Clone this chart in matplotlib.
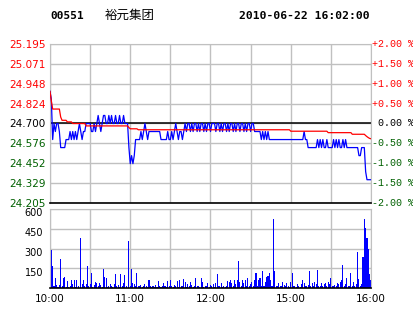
import matplotlib
matplotlib.use('Agg')
import matplotlib.pyplot as plt
from matplotlib.transforms import ScaledTranslation

code = '00551'
name = '裕元集团'
stamp = '2010-06-22 16:02:00'
prev_close = 24.70

price_levels = [25.195, 25.071, 24.948, 24.824, 24.700, 24.576, 24.452, 24.329, 24.205]
price_labels = ['25.195', '25.071', '24.948', '24.824', '24.700', '24.576', '24.452', '24.329', '24.205']
pct_labels = ['+2.00 %', '+1.50 %', '+1.00 %', '+0.50 %', ' 0.00 %', '-0.50 %', '-1.00 %', '-1.50 %', '-2.00 %']
time_ticks = [0, 60, 120, 180, 240]
time_labels = ['10:00', '11:00', '12:00', '15:00', '16:00']
vol_ticks = [150, 300, 450, 600]
vol_labels = ['150', '300', '450', '600']

# one value per minute, 10:00-12:30 then 14:30-16:00
price = [
    24.90, 24.85, 24.60, 24.70, 24.65, 24.70, 24.70, 24.65, 24.55, 24.55,
    24.55, 24.55, 24.60, 24.60, 24.60, 24.65, 24.60, 24.65, 24.60, 24.65,
    24.60, 24.65, 24.70, 24.65, 24.60, 24.65, 24.65, 24.70, 24.70, 24.70,
    24.70, 24.65, 24.65, 24.70, 24.65, 24.70, 24.75, 24.70, 24.65, 24.70,
    24.75, 24.75, 24.70, 24.70, 24.75, 24.70, 24.75, 24.70, 24.70, 24.75,
    24.70, 24.70, 24.75, 24.70, 24.70, 24.75, 24.70, 24.70, 24.70, 24.55,
    24.45, 24.50, 24.45, 24.50, 24.60, 24.60, 24.60, 24.60, 24.65, 24.60,
    24.65, 24.70, 24.65, 24.60, 24.65, 24.65, 24.65, 24.65, 24.65, 24.65,
    24.65, 24.65, 24.65, 24.60, 24.60, 24.60, 24.60, 24.60, 24.65, 24.60,
    24.60, 24.65, 24.60, 24.65, 24.70, 24.65, 24.60, 24.65, 24.65, 24.60,
    24.65, 24.70, 24.65, 24.70, 24.70, 24.65, 24.70, 24.65, 24.70, 24.70,
    24.65, 24.70, 24.65, 24.70, 24.70, 24.65, 24.70, 24.65, 24.70, 24.70,
    24.65, 24.70, 24.70, 24.70, 24.65, 24.70, 24.70, 24.65, 24.70, 24.65,
    24.70, 24.70, 24.65, 24.70, 24.65, 24.70, 24.70, 24.65, 24.70, 24.65,
    24.70, 24.70, 24.65, 24.70, 24.70, 24.65, 24.70, 24.65, 24.70, 24.70,
    24.65, 24.70, 24.70, 24.65, 24.65, 24.65, 24.65, 24.65, 24.60, 24.65,
    24.60, 24.65, 24.60, 24.65, 24.60, 24.60, 24.60, 24.60, 24.60, 24.60,
    24.60, 24.60, 24.60, 24.60, 24.60, 24.60, 24.60, 24.60, 24.60, 24.60,
    24.60, 24.60, 24.60, 24.60, 24.60, 24.60, 24.60, 24.60, 24.60, 24.60,
    24.65, 24.60, 24.60, 24.55, 24.55, 24.55, 24.55, 24.55, 24.55, 24.55,
    24.60, 24.55, 24.60, 24.55, 24.60, 24.55, 24.55, 24.60, 24.55, 24.55,
    24.55, 24.55, 24.60, 24.55, 24.60, 24.55, 24.60, 24.55, 24.55, 24.60,
    24.55, 24.60, 24.55, 24.55, 24.55, 24.55, 24.55, 24.55, 24.55, 24.55,
    24.55, 24.50, 24.50, 24.55, 24.55, 24.55, 24.40, 24.35, 24.35, 24.35,
    24.35,
]

avg_price = ([24.90, 24.84] + [24.79] * 6 + [24.74] + [24.72] * 4 + [24.71] * 4
             + [24.70] * 10 + [24.685] * 32 + [24.675] + [24.667] * 6
             + [24.661] * 114 + [24.652] * 28 + [24.643] * 18 + [24.633] * 10
             + [24.625, 24.618, 24.612, 24.607, 24.605])

volume = [
    245, 290, 170, 20, 80, 25, 10, 25, 220, 15,
    80, 85, 10, 55, 10, 15, 60, 30, 60, 10,
    60, 15, 5, 383, 30, 60, 15, 30, 170, 15,
    30, 118, 10, 25, 45, 40, 20, 40, 25, 10,
    146, 85, 80, 10, 20, 30, 15, 10, 35, 108,
    15, 25, 10, 108, 15, 40, 100, 15, 5, 358,
    20, 146, 40, 35, 15, 118, 20, 15, 25, 10,
    15, 30, 20, 10, 63, 20, 10, 15, 10, 25,
    10, 55, 15, 10, 20, 40, 15, 10, 55, 15,
    63, 20, 10, 25, 15, 55, 10, 63, 20, 15,
    68, 50, 10, 35, 15, 45, 25, 10, 20, 75,
    20, 15, 10, 80, 50, 10, 20, 15, 40, 10,
    25, 15, 30, 10, 40, 108, 15, 20, 40, 10,
    20, 10, 15, 55, 50, 63, 40, 15, 63, 30,
    60, 207, 45, 15, 63, 40, 63, 20, 75, 15,
    30, 45, 20, 63, 113, 20, 63, 75, 15, 131,
    20, 45, 88, 93, 113, 60, 20, 524, 131, 15,
    20, 40, 20, 15, 45, 25, 15, 40, 20, 10,
    45, 113, 15, 20, 10, 30, 20, 10, 35, 63,
    40, 20, 15, 25, 134, 15, 40, 20, 45, 30,
    139, 20, 15, 40, 20, 35, 40, 20, 45, 30,
    75, 20, 15, 25, 15, 40, 35, 45, 60, 176,
    20, 35, 75, 15, 20, 118, 20, 45, 15, 30,
    272, 70, 20, 30, 239, 524, 454, 378, 297, 108,
    60,
]

minutes = list(range(len(price)))
grid_col = '#C0C0C0'
up_col = '#FF0000'
dn_col = '#006000'

fig = plt.figure(figsize=(4.14, 3.14), dpi=100)
W, H = 414.0, 314.0
axp = fig.add_axes([50 / W, 1 - 203 / H, 321 / W, 159 / H])
axv = fig.add_axes([50 / W, 1 - 288.3 / H, 321 / W, 79.3 / H])

# header
fig.text(50 / W, 1 - 16 / H, code, fontsize=8, fontweight='bold',
         family='DejaVu Sans Mono', va='center', ha='left')
fig.text(105 / W, 1 - 15 / H, name, fontsize=9, family=['Noto Sans CJK SC', 'DejaVu Sans'],
         va='center', ha='left')
fig.text(370 / W, 1 - 16 / H, stamp, fontsize=8.2, fontweight='bold',
         family='DejaVu Sans Mono', va='center', ha='right')

# price panel
axp.set_xlim(0, 240)
axp.set_ylim(price_levels[-1], price_levels[0])
axp.set_axisbelow(True)
axp.set_yticks(price_levels)
axp.set_yticklabels(price_labels, fontsize=7.5)
axp.set_xticks(range(0, 241, 30))
axp.set_xticklabels([])
axp.tick_params(length=0, pad=3)
axp.grid(True, color=grid_col, lw=1.0)
for lab, lv in zip(axp.get_yticklabels(), price_levels):
    if lv > prev_close + 1e-6:
        lab.set_color(up_col)
    elif lv < prev_close - 1e-6:
        lab.set_color(dn_col)
    else:
        lab.set_color('black')
for sp in ['top', 'left', 'right']:
    axp.spines[sp].set_color(grid_col)
axp.spines['bottom'].set_color('black')
axp.spines['bottom'].set_linewidth(1.2)
axp.axhline(prev_close, color='black', lw=1.1, zorder=2)
axp.plot(minutes, price, color='#0000FF', lw=0.9, zorder=3)
axp.plot(minutes, avg_price, color=up_col, lw=0.9, zorder=4)

tr = axp.get_yaxis_transform()
for lv, lab in zip(price_levels, pct_labels):
    c = up_col if lab.startswith('+') else (dn_col if lab.startswith('-') else 'black')
    axp.text(1.003, lv, lab, transform=tr, color=c, fontsize=7.2,
             family='Liberation Mono', va='center', ha='left')

# volume panel
axv.set_xlim(0, 240)
axv.set_ylim(0, 600)
axv.set_axisbelow(True)
axv.bar(minutes, volume, width=0.8, color='#0000FF', lw=0)
axv.set_yticks(vol_ticks)
axv.set_yticklabels(vol_labels, fontsize=7)
axv.set_xticks(time_ticks)
axv.set_xticklabels(time_labels, fontsize=7.5)
axv.set_xticks(range(0, 241, 30), minor=True)
axv.tick_params(which='both', length=0, pad=4)
axv.tick_params(axis='y', pad=5)
axv.grid(True, which='both', color=grid_col, lw=1.0)
for sp in ['top', 'left', 'right']:
    axv.spines[sp].set_color(grid_col)
axv.spines['bottom'].set_color('black')
axv.spines['bottom'].set_linewidth(1.2)

# volume labels sit a little below their grid lines
shift = ScaledTranslation(0, -3.5 / 100, fig.dpi_scale_trans)
for lab in axv.get_yticklabels():
    lab.set_transform(lab.get_transform() + shift)

fig.savefig('out.png', dpi=100)
